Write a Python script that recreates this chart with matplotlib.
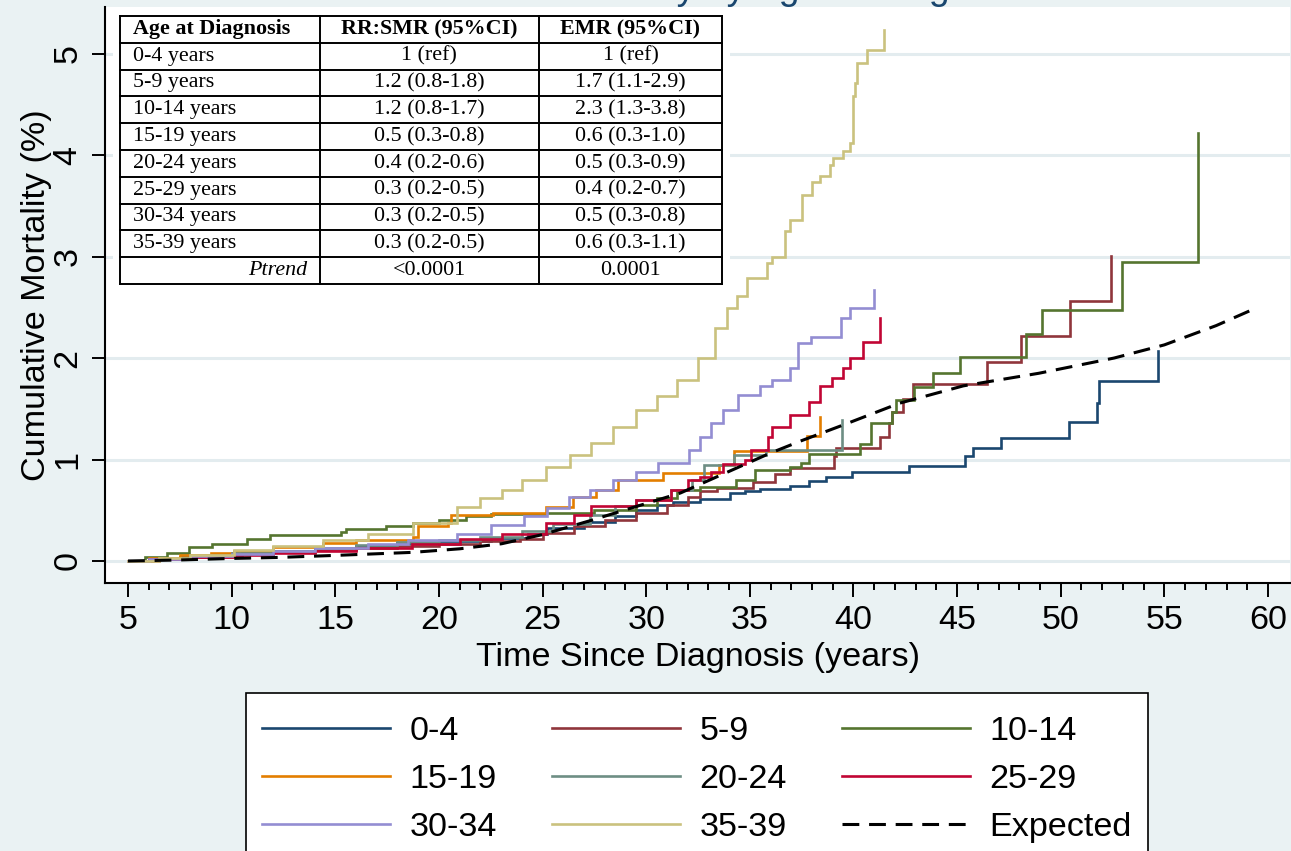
import matplotlib
matplotlib.use("Agg")
import matplotlib.pyplot as plt
from matplotlib.patches import Rectangle

plt.rcParams["font.family"] = ["Liberation Sans", "DejaVu Sans"]

# ---------------- data ----------------
title = "Cumulative Mortality by Age at Diagnosis"

groups = ["0-4", "5-9", "10-14", "15-19", "20-24", "25-29", "30-34", "35-39"]
colors = ["#1A476F", "#90353B", "#55752F", "#E37E00",
          "#6E8E84", "#C10534", "#938DD2", "#CAC27E"]

t_0_4 = [5, 6, 7.5, 9, 10.5, 12, 14, 16, 18, 20, 22.5, 24.3, 25.2, 27, 28.5, 29.5,
         30.5, 31.3, 32.6, 34.05, 34.78, 35.5, 36.95, 37.86, 38.68, 39.95, 42.68,
         45.4, 45.76, 47.12, 50.39, 51.75, 51.84, 54.71]
v_0_4 = [0, 0.02, 0.04, 0.06, 0.08, 0.1, 0.12, 0.15, 0.18, 0.2, 0.23, 0.27, 0.33,
         0.38, 0.44, 0.5, 0.55, 0.58, 0.61, 0.667, 0.69, 0.71, 0.743, 0.789, 0.832,
         0.874, 0.94, 1.03, 1.11, 1.216, 1.367, 1.56, 1.77, 2.07]

t_5_9 = [5, 6.5, 8, 10, 12, 14, 16, 18, 20, 22, 23.9, 25, 26.5, 28, 29.5, 31, 32,
         32.6, 33.4, 35.14, 36.23, 36.95, 39.04, 39.17, 41.28, 41.71, 41.86, 42.4,
         42.85, 46.43, 48.07, 50.43, 52.44]
v_5_9 = [0, 0.02, 0.04, 0.07, 0.09, 0.11, 0.13, 0.15, 0.17, 0.2, 0.22, 0.28, 0.34,
         0.4, 0.47, 0.55, 0.63, 0.69, 0.72, 0.78, 0.86, 0.92, 1.03, 1.11, 1.226,
         1.36, 1.47, 1.6, 1.745, 1.96, 2.22, 2.56, 3.01]

t_10_14 = [5, 5.8, 6.9, 7.96, 9.03, 10.76, 11.83, 15.28, 15.5, 17.43, 18.73, 20,
           21.3, 22.5, 25.19, 27.5, 29.5, 30.5, 31.5, 32.6, 34.32, 35.23, 36.95,
           37.47, 37.86, 40.31, 40.85, 41.86, 42.04, 42.91, 43.85, 45.13, 48.3,
           49.08, 52.97, 56.6]
v_10_14 = [0, 0.04, 0.075, 0.14, 0.17, 0.22, 0.256, 0.29, 0.32, 0.34, 0.37, 0.4,
           0.44, 0.46, 0.47, 0.5, 0.55, 0.62, 0.7, 0.733, 0.8, 0.9, 0.93, 0.97,
           1.055, 1.15, 1.36, 1.47, 1.59, 1.71, 1.85, 2.01, 2.24, 2.475, 2.95, 4.22]

t_15_19 = [5, 6, 7.5, 9, 10.1, 12, 14.4, 16, 18.73, 19.0, 20.44, 20.6, 22.6, 25.19,
           26.48, 27.57, 28.63, 30.79, 33.5, 34.24, 37.77, 38.37]
v_15_19 = [0, 0.03, 0.06, 0.08, 0.1, 0.14, 0.18, 0.21, 0.24, 0.34, 0.37, 0.45,
           0.47, 0.535, 0.63, 0.7, 0.8, 0.865, 0.95, 1.08, 1.236, 1.42]

t_20_24 = [5, 6, 8, 10, 12, 14, 16, 18, 20, 22, 24, 25.5, 27.3, 28.5, 29.5, 31.2,
           32.2, 32.78, 34.23, 35.77, 39.46]
v_20_24 = [0, 0.02, 0.05, 0.08, 0.1, 0.13, 0.16, 0.19, 0.21, 0.24, 0.3, 0.36, 0.45,
           0.54, 0.6, 0.7, 0.8, 0.947, 1.04, 1.095, 1.39]

t_25_29 = [5, 6, 8, 10.1, 12, 14, 16, 18.7, 21, 23.03, 25.19, 26.5, 27.34, 29.49,
           31.2, 32.0, 32.6, 33.14, 33.69, 34.77, 35.05, 35.86, 36.05, 36.95, 37.86,
           38.4, 38.95, 39.5, 39.82, 40.44, 41.27]
v_25_29 = [0, 0.02, 0.04, 0.06, 0.08, 0.1, 0.13, 0.17, 0.22, 0.27, 0.37, 0.45, 0.54,
           0.6, 0.7, 0.8, 0.83, 0.88, 0.96, 1.0, 1.095, 1.226, 1.32, 1.44, 1.57,
           1.72, 1.8, 1.9, 2.0, 2.16, 2.39]

t_30_34 = [5, 6, 8, 10, 12, 14, 16.6, 18.5, 20.87, 22.5, 24.1, 25.2, 26.27, 27.3,
           28.4, 29.5, 30.57, 32.07, 32.6, 33.14, 33.69, 34.41, 35.5, 36.05, 36.95,
           37.32, 37.95, 39.4, 39.82, 40.99]
v_30_34 = [0, 0.02, 0.05, 0.07, 0.1, 0.13, 0.17, 0.21, 0.27, 0.35, 0.44, 0.52, 0.63,
           0.7, 0.8, 0.88, 0.966, 1.095, 1.226, 1.36, 1.49, 1.64, 1.72, 1.785, 1.9,
           2.15, 2.21, 2.39, 2.49, 2.67]

t_35_39 = [5, 6.5, 8, 10.1, 12, 14.4, 16.6, 18.73, 20.87, 22, 23.03, 24, 25.19, 26.3,
           27.34, 28.4, 29.49, 30.5, 31.5, 32.5, 33.3, 33.88, 34.37, 34.85, 35.81,
           36.06, 36.7, 36.94, 37.5, 37.98, 38.39, 38.87, 39.03, 39.51, 39.83, 39.99,
           40.07, 40.16, 40.64, 41.47]
v_35_39 = [0, 0.03, 0.06, 0.108, 0.15, 0.21, 0.27, 0.37, 0.536, 0.62, 0.7, 0.8, 0.93,
           1.04, 1.16, 1.32, 1.49, 1.63, 1.785, 2.0, 2.3, 2.49, 2.61, 2.79, 2.94, 3.0,
           3.25, 3.36, 3.61, 3.74, 3.79, 3.905, 3.97, 4.04, 4.12, 4.58, 4.71, 4.91,
           5.04, 5.23]

expected_t = [5, 7.5, 10, 12.27, 15, 18.73, 21, 23.03, 25, 27.34, 29.49, 31.65, 33.8,
              35.95, 37.42, 39.5, 42.22, 45.3, 48.94, 52.57, 55, 57.5, 59.5]
expected_v = [0, 0.01, 0.025, 0.035, 0.055, 0.085, 0.12, 0.17, 0.26, 0.4, 0.535, 0.67,
              0.865, 1.06, 1.18, 1.34, 1.555, 1.726, 1.85, 2.0, 2.13, 2.32, 2.5]

times = [t_0_4, t_5_9, t_10_14, t_15_19, t_20_24, t_25_29, t_30_34, t_35_39]
values = [v_0_4, v_5_9, v_10_14, v_15_19, v_20_24, v_25_29, v_30_34, v_35_39]

x_ticks = list(range(5, 61, 5))
y_ticks = [0, 1, 2, 3, 4, 5]

# inset table contents
table_header = ["Age at Diagnosis", "RR:SMR (95%CI)", "EMR (95%CI)"]
table_age = ["0-4 years", "5-9 years", "10-14 years", "15-19 years",
             "20-24 years", "25-29 years", "30-34 years", "35-39 years"]
table_rr = ["1 (ref)", "1.2 (0.8-1.8)", "1.2 (0.8-1.7)", "0.5 (0.3-0.8)",
            "0.4 (0.2-0.6)", "0.3 (0.2-0.5)", "0.3 (0.2-0.5)", "0.3 (0.2-0.5)"]
table_emr = ["1 (ref)", "1.7 (1.1-2.9)", "2.3 (1.3-3.8)", "0.6 (0.3-1.0)",
             "0.5 (0.3-0.9)", "0.4 (0.2-0.7)", "0.5 (0.3-0.8)", "0.6 (0.3-1.1)"]
ptrend = ["<0.0001", "0.0001"]

# ---------------- figure ----------------
W, H = 1291, 851
BG = "#EAF2F3"
FS = 24.6
fig = plt.figure(figsize=(W / 100, H / 100), dpi=100, facecolor=BG)

ax = fig.add_axes([105 / W, 1 - 583 / H, (1290 - 105) / W, (583 - 7) / H])
ax.set_facecolor("white")
ax.set_xlim(3.89, 61.06)
ax.set_ylim(-0.217, 5.46)

for name, t, v, c in zip(groups, times, values, colors):
    ax.plot(t, v, drawstyle="steps-post", color=c, lw=1.9, label=name,
            solid_joinstyle="miter")
ax.plot(expected_t, expected_v, color="black", lw=2.2, ls=(0, (5.5, 3.2)),
        label="Expected")

ax.set_xticks(x_ticks)
ax.set_xticks(range(5, 61), minor=True)
ax.set_yticks(y_ticks)
ax.grid(axis="y", color="#E3ECEF", lw=2.2)
ax.set_axisbelow(True)
for s in ("top", "right"):
    ax.spines[s].set_visible(False)
for s in ("left", "bottom"):
    ax.spines[s].set_linewidth(1.5)

ax.tick_params(axis="x", which="major", length=10, width=1.4, labelsize=FS, pad=6)
ax.tick_params(axis="x", which="minor", length=5, width=1.4)
ax.tick_params(axis="y", which="major", length=9.5, width=1.4, labelsize=FS,
               pad=6, labelrotation=90)
for lab in ax.get_yticklabels():
    lab.set_va("center")

ax.set_xlabel("Time Since Diagnosis (years)", fontsize=FS)
ax.xaxis.set_label_coords(0.5, -0.103)
ax.set_ylabel("Cumulative Mortality (%)", fontsize=FS)
ax.yaxis.set_label_coords(-0.045, 0.5)

fig.text(697 / W, 1 + 1 / H, title, ha="center", va="baseline", fontsize=27,
         color="#1A476F")

# legend box (runs past the lower edge of the figure)
fig.patches.append(Rectangle((246 / W, -30 / H), (1148 - 246) / W, (851 + 30 - 693) / H,
                             transform=fig.transFigure, facecolor="white",
                             edgecolor="black", lw=1.2, zorder=1))

# legend entries laid out row by row
handles, labels = ax.get_legend_handles_labels()
order = [0, 3, 6, 1, 4, 7, 2, 5, 8]
leg = fig.legend([handles[i] for i in order], [labels[i] for i in order], ncol=3,
                 loc="upper left", bbox_to_anchor=(246 / W, 1 - 700.5 / H),
                 bbox_transform=fig.transFigure, fontsize=FS, frameon=False,
                 handlelength=3.75, handletextpad=0.58, columnspacing=1.6,
                 labelspacing=0.5, borderpad=0.46, borderaxespad=0)
leg.set_zorder(2)

# ---------------- inset table ----------------
tab = fig.add_axes([0, 0, 1, 1], zorder=5)
tab.set_xlim(0, W)
tab.set_ylim(H, 0)
tab.axis("off")
tab.patch.set_alpha(0)

tx0, tx1, tx2, tx3 = 120, 319.5, 539, 722
ty0, row_h = 16, 26.8
nrows = 10
tab.add_patch(Rectangle((113, 9), 617, 282, facecolor="white", edgecolor="none"))
for i in range(nrows + 1):
    y = ty0 + i * row_h
    tab.plot([tx0, tx3], [y, y], color="black", lw=1.4, solid_capstyle="projecting")
for x in (tx0, tx1, tx2, tx3):
    tab.plot([x, x], [ty0, ty0 + nrows * row_h], color="black", lw=1.4,
             solid_capstyle="projecting")

serif = ["Liberation Serif", "DejaVu Serif"]
fs_tab = 15.8
yc = ty0 + 0.5 * row_h
tab.text(tx0 + 13, yc, table_header[0], ha="left", va="center", fontsize=fs_tab,
         family=serif, weight="bold")
tab.text((tx1 + tx2) / 2, yc, table_header[1], ha="center", va="center",
         fontsize=fs_tab, family=serif, weight="bold")
tab.text((tx2 + tx3) / 2, yc, table_header[2], ha="center", va="center",
         fontsize=fs_tab, family=serif, weight="bold")
for i, (a, r, e) in enumerate(zip(table_age, table_rr, table_emr)):
    yc = ty0 + (i + 1.5) * row_h
    tab.text(tx0 + 13, yc, a, ha="left", va="center", fontsize=fs_tab, family=serif)
    tab.text((tx1 + tx2) / 2, yc, r, ha="center", va="center", fontsize=fs_tab,
             family=serif)
    tab.text((tx2 + tx3) / 2, yc, e, ha="center", va="center", fontsize=fs_tab,
             family=serif)
yc = ty0 + 9.5 * row_h
tab.text(tx1 - 12, yc, "Ptrend", ha="right", va="center", fontsize=fs_tab,
         family=serif, style="italic")
tab.text((tx1 + tx2) / 2, yc, ptrend[0], ha="center", va="center", fontsize=fs_tab,
         family=serif)
tab.text((tx2 + tx3) / 2, yc, ptrend[1], ha="center", va="center", fontsize=fs_tab,
         family=serif)

fig.savefig("out.png", dpi=100, facecolor=BG)
